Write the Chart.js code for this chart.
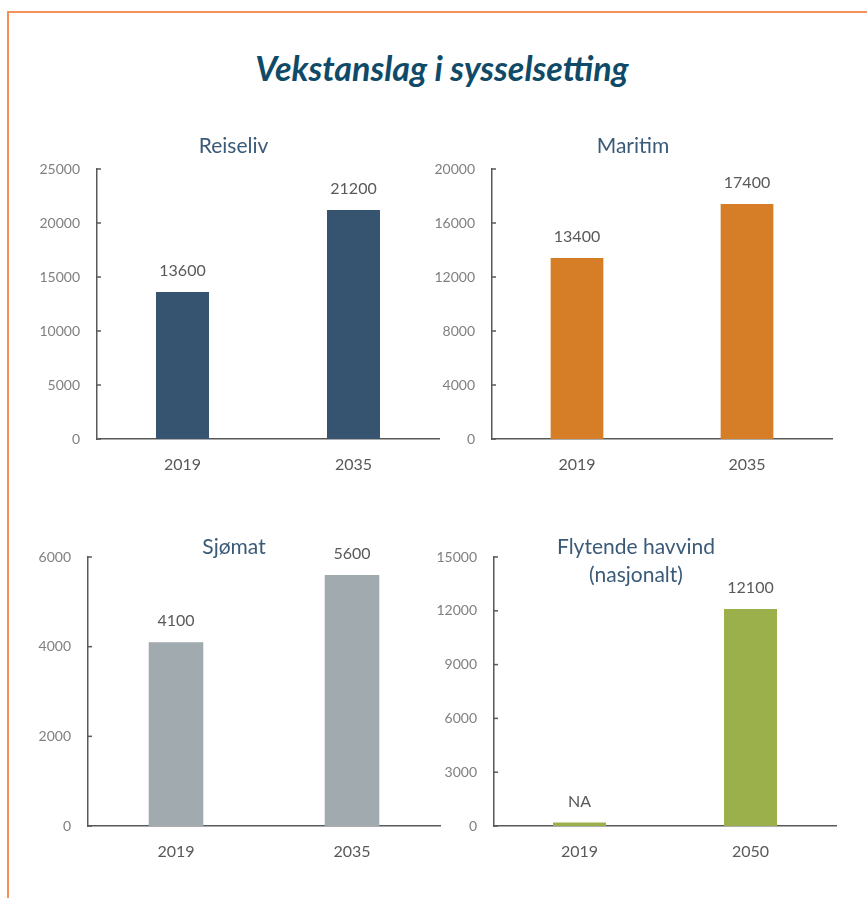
<!DOCTYPE html>
<html>
<head>
<meta charset="utf-8">
<title>Vekstanslag i sysselsetting</title>
<script src="https://cdn.jsdelivr.net/npm/chart.js@4"></script>
<style>
  html, body { margin: 0; padding: 0; background: #fff; width: 867px; height: 898px; overflow: hidden; }
  .frame { position: absolute; left: 7px; top: 11px; width: 900px; height: 900px;
           border-top: 2px solid #f59158; border-left: 2px solid #f59158; }
  h1 { position: absolute; left: 0; width: 884px; top: 47px; margin: 0; text-align: center;
       font: italic 700 34px Lato, sans-serif; line-height: 42px; color: #0f4b68; }
  canvas { position: absolute; }
</style>
</head>
<body>
<div class="frame"></div>
<h1>Vekstanslag i sysselsetting</h1>
<canvas id="reiseliv" width="430" height="374" style="left:20px;top:110px"></canvas>
<canvas id="maritim" width="450" height="374" style="left:400px;top:110px"></canvas>
<canvas id="sjomat" width="440" height="361" style="left:10px;top:510px"></canvas>
<canvas id="havvind" width="450" height="361" style="left:400px;top:510px"></canvas>
<script>
// data
const yearsA = ['2019', '2035'];
const yearsB = ['2019', '2050'];

const reiselivValues = [13600, 21200];
const maritimValues = [13400, 17400];
const sjomatValues = [4100, 5600];
const havvindValues = [200, 12100];   // 2019 has no figure, drawn as a sliver marked NA
const havvindLabels = ['NA', '12100'];

const reiselivTicks = [0, 5000, 10000, 15000, 20000, 25000];
const maritimTicks = [0, 4000, 8000, 12000, 16000, 20000];
const sjomatTicks = [0, 2000, 4000, 6000];
const havvindTicks = [0, 3000, 6000, 9000, 12000, 15000];

const axisColor = '#595959';

// numbers above bars
const valueLabels = {
  id: 'valueLabels',
  afterDatasetsDraw(chart) {
    const ds = chart.data.datasets[0];
    const ctx = chart.ctx;
    ctx.save();
    ctx.font = '16px Lato, sans-serif';
    ctx.fillStyle = '#595959';
    ctx.textAlign = 'center';
    ctx.textBaseline = 'middle';
    chart.getDatasetMeta(0).data.forEach((bar, i) => {
      ctx.fillText(ds.valueTexts[i], bar.x, bar.y - 21);
    });
    ctx.restore();
  }
};

// small tick marks on the inside of the y axis
const innerTicks = {
  id: 'innerTicks',
  afterDraw(chart) {
    const y = chart.scales.y;
    const ctx = chart.ctx;
    ctx.save();
    ctx.strokeStyle = axisColor;
    ctx.lineWidth = 1.5;
    y.ticks.forEach(t => {
      const py = y.getPixelForValue(t.value);
      ctx.beginPath();
      ctx.moveTo(y.right, py);
      ctx.lineTo(y.right + 4, py);
      ctx.stroke();
    });
    ctx.restore();
  }
};

function makeChart(id, title, labels, values, texts, ticks, color, pad, yWidth, titlePad) {
  new Chart(document.getElementById(id), {
    type: 'bar',
    data: {
      labels: labels,
      datasets: [{
        data: values,
        valueTexts: texts,
        backgroundColor: color,
        borderWidth: 0,
        categoryPercentage: 1,
        barPercentage: 0.31
      }]
    },
    options: {
      responsive: false,
      animation: false,
      layout: { padding: pad },
      plugins: {
        legend: { display: false },
        tooltip: { enabled: false },
        title: {
          display: true,
          text: title,
          color: '#3a5a78',
          font: { family: 'Lato, sans-serif', size: 21, weight: 'normal', lineHeight: 1.333 },
          padding: titlePad
        }
      },
      scales: {
        x: {
          grid: { display: false, drawTicks: false },
          border: { display: true, color: axisColor, width: 1.5 },
          ticks: { color: '#595959', font: { family: 'Lato, sans-serif', size: 16 }, padding: 16 },
          afterFit: s => { s.height = 45; }
        },
        y: {
          min: ticks[0],
          max: ticks[ticks.length - 1],
          grid: { display: false, drawTicks: false },
          border: { display: true, color: axisColor, width: 1.5 },
          ticks: {
            color: '#808080',
            font: { family: 'Lato, sans-serif', size: 14 },
            padding: 17,
            callback: v => String(v)
          },
          afterBuildTicks: s => { s.ticks = ticks.map(v => ({ value: v })); },
          afterFit: s => { s.width = yWidth; }
        }
      }
    },
    plugins: [valueLabels, innerTicks]
  });
}

makeChart('reiseliv', 'Reiseliv', yearsA, reiselivValues, reiselivValues.map(String), reiselivTicks,
  '#36546f', { left: 8, right: 11, top: 0, bottom: 0 }, 69, { top: 22, bottom: 9 });
makeChart('maritim', 'Maritim', yearsA, maritimValues, maritimValues.map(String), maritimTicks,
  '#d57e27', { left: 34, right: 18, top: 0, bottom: 0 }, 58, { top: 22, bottom: 9 });
makeChart('sjomat', 'Sjømat', yearsA, sjomatValues, sjomatValues.map(String), sjomatTicks,
  '#a0aaaf', { left: 18, right: 10, top: 0, bottom: 0 }, 60, { top: 23, bottom: -4 });
makeChart('havvind', ['Flytende havvind', '(nasjonalt)'], yearsB, havvindValues, havvindLabels, havvindTicks,
  '#9bb04a', { left: 36, right: 14, top: 0, bottom: 0 }, 58, { top: 23, bottom: -32 });
</script>
</body>
</html>
